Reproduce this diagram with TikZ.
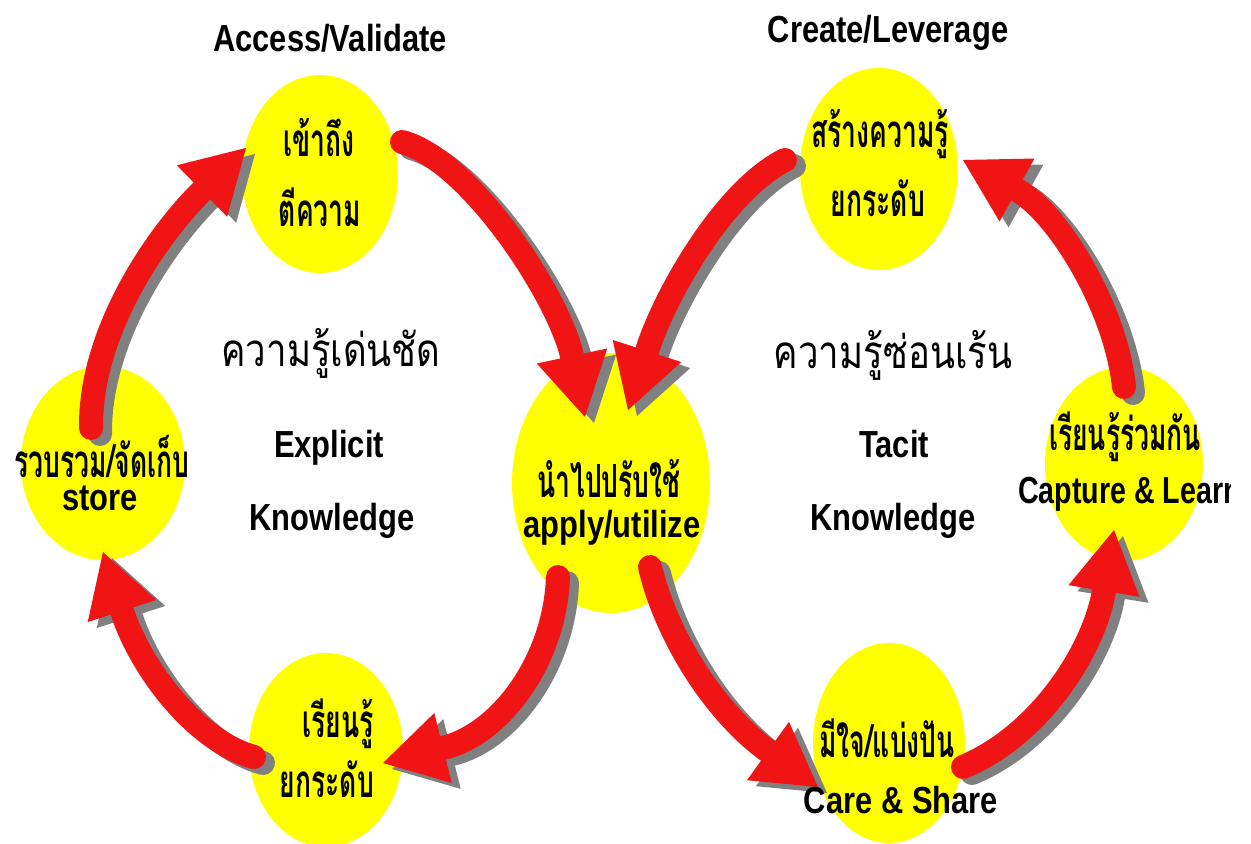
\documentclass[tikz,border=0pt]{standalone}
\usepackage{fontspec}
\usetikzlibrary{calc,shapes.geometric}
\newfontfamily\enfont[FakeStretch=0.82]{Liberation Sans}
\newfontfamily\ennarrow[FakeStretch=0.76]{Liberation Sans}
\newfontfamily\thaifont[Script=Thai,FakeStretch=0.8]{Loma}
\newfontfamily\thaibold[Script=Thai,FakeStretch=0.58]{Loma}
\definecolor{blobyellow}{RGB}{255,255,0}
\definecolor{arrowred}{RGB}{240,20,20}
\definecolor{shadowgrey}{RGB}{128,128,128}
\tikzset{
  blob/.style={ellipse, fill=blobyellow, draw=none, inner sep=0pt},
  entext/.style={font=\enfont\bfseries\fontsize{53.6}{60}\selectfont, anchor=base, inner sep=0pt},
  thbig/.style={font=\thaifont\fontsize{65}{70}\selectfont, anchor=base, inner sep=0pt},
  thlab/.style={font=\thaibold\bfseries\fontsize{65}{70}\selectfont, anchor=base, inner sep=0pt},
  flowline/.style={draw=arrowred, line width=1.2cm, line cap=round},
}
\newcommand\flowarrow[5]{%
  \begin{scope}[transform canvas={shift={(0.45cm,-0.3cm)}}]
    \draw[flowline, draw=shadowgrey] (#1) .. controls (#2) and (#3) .. (#4);
    \fill[shadowgrey] ($(#4)!1.8cm!90:(#5)$) -- (#5) -- ($(#4)!1.8cm!-90:(#5)$) -- cycle;
  \end{scope}
  \draw[flowline] (#1) .. controls (#2) and (#3) .. (#4);
  \fill[arrowred] ($(#4)!1.8cm!90:(#5)$) -- (#5) -- ($(#4)!1.8cm!-90:(#5)$) -- cycle;
}
\begin{document}
\begin{tikzpicture}[x=0.05cm,y=-0.05cm]
\useasboundingbox (0,0) rectangle (1251,844);
\fill[white] (0,0) rectangle (1251,844);

% circles
\node[blob, minimum width=7.8cm, minimum height=9.9cm] (A) at (320,174) {};
\node[blob, minimum width=8.2cm, minimum height=9.7cm] (B) at (103,463) {};
\node[blob, minimum width=7.7cm, minimum height=9.7cm] (C) at (326,750) {};
\node[blob, minimum width=9.9cm, minimum height=13cm] (D) at (611,483) {};
\node[blob, minimum width=7.9cm, minimum height=10.1cm] (E) at (879,169) {};
\node[blob, minimum width=7.9cm, minimum height=9.7cm] (F) at (1124,464) {};
\node[blob, minimum width=7.6cm, minimum height=10cm] (G) at (889,743) {};

% arrow coordinates
\coordinate (t1) at (402,142); \coordinate (b1) at (572,356); \coordinate (h1) at (585,417);
\coordinate (t2) at (91,428);  \coordinate (b2) at (202,191); \coordinate (h2) at (246,148);
\coordinate (t3) at (254,757); \coordinate (b3) at (122,611); \coordinate (h3) at (103,552);
\coordinate (t4) at (558,577); \coordinate (b4) at (443,748); \coordinate (h4) at (383,763);
\coordinate (t5) at (785,160); \coordinate (b5) at (647,351); \coordinate (h5) at (628,410);
\coordinate (t6) at (1124,387); \coordinate (b6) at (1017,190); \coordinate (h6) at (963,160);
\coordinate (t7) at (650,567); \coordinate (b7) at (768,751); \coordinate (h7) at (818,787);
\coordinate (t8) at (963,767); \coordinate (b8) at (1104,591); \coordinate (h8) at (1114,530);

\flowarrow{t1}{470,160}{559,297}{b1}{h1}
\flowarrow{t2}{90,330}{159,233}{b2}{h2}
\flowarrow{t3}{198,742}{142,672}{b3}{h3}
\flowarrow{t4}{555,660}{501,734}{b4}{h4}
\flowarrow{t5}{725,190}{665,294}{b5}{h5}
\flowarrow{t6}{1116,308}{1058,213}{b6}{h6}
\flowarrow{t7}{668,642}{719,716}{b7}{h7}
\flowarrow{t8}{1040,735}{1094,650}{b8}{h8}

% headings
\node[entext] (hA) at (330,52) {Access/Validate};
\node[entext] (hE) at (888,43) {Create/Leverage};

% central labels
\node[thbig] (exTh) at (331,366) {ความรู้เด่นชัด};
\node[entext] (ex1) at (329,457) {Explicit};
\node[entext] (ex2) at (332,530) {Knowledge};
\node[thbig] (taTh) at (893,368) {ความรู้ซ่อนเร้น};
\node[entext] (ta1) at (894,457) {Tacit};
\node[entext] (ta2) at (893,530) {Knowledge};

% circle labels
\node[thlab] (A1) at (319,157) {เข้าถึง};
\node[thlab] (A2) at (320,227) {ตีความ};
\node[thlab] (E1) at (880,148) {สร้างความรู้};
\node[thlab] (E2) at (878,217) {ยกระดับ};
\node[thlab] (B1) at (102,477) {รวบรวม/จัดเก็บ};
\node[entext] (B2) at (100,510) {store};
\node[thlab] (D1) at (609,497) {นำไปปรับใช้};
\node[entext] (D2) at (612,537) {apply/utilize};
\node[thlab] (F1) at (1125,450) {เรียนรู้ร่วมกัน};
\begin{scope}
  \clip (1000,400) rectangle (1230,560);
  \node[entext, font=\ennarrow\bfseries\fontsize{53.6}{60}\selectfont, anchor=base west] (F2) at (1018,503) {Capture \& Learn};
\end{scope}
\node[thlab] (C1) at (338,737) {เรียนรู้};
\node[thlab] (C2) at (327,797) {ยกระดับ};
\node[thlab] (G1) at (887,757) {มีใจ/แบ่งปัน};
\node[entext] (G2) at (901,813) {Care \& Share};
\end{tikzpicture}
\end{document}
